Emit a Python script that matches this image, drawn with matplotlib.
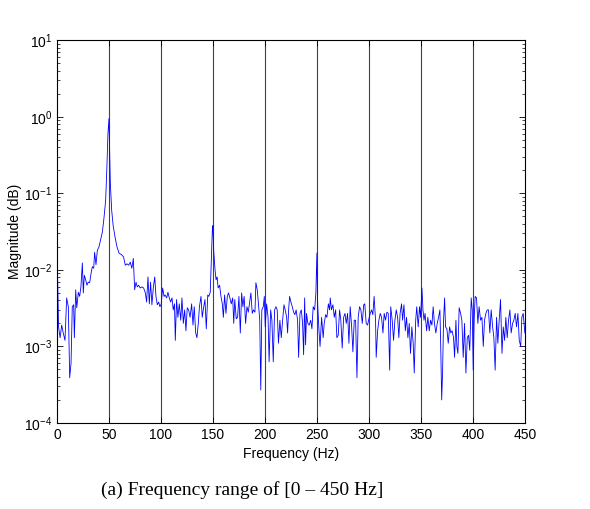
import matplotlib
matplotlib.use("Agg")
import matplotlib.pyplot as plt
from matplotlib.ticker import LogLocator, NullFormatter

plt.rcParams['font.family'] = ['Liberation Sans', 'DejaVu Sans']

# spectrum (frequency in Hz, magnitude)
freq_a = [0, 1.5, 3, 4.5, 6, 7.7, 9.3, 10.9, 12.2, 13.5, 14.7, 16, 16.7, 18, 19,
          20.5, 21.8, 23, 24.4, 25.3, 26.3, 27.6, 28.8, 30, 31.4, 32.7, 34, 35.3,
          36.2, 37.5, 38.8, 40.4, 42, 43.6, 45, 46.8, 48, 49, 50, 50.5, 51.3, 52.6,
          54, 55.8, 57.7, 59.6, 62]
mag_a = [0.022, 0.0018, 0.0013, 0.0019, 0.0015, 0.0012, 0.0043, 0.0033, 0.00039,
         0.0006, 0.0033, 0.0035, 0.0013, 0.0055, 0.0032, 0.0051, 0.0045, 0.0060,
         0.0123, 0.0050, 0.0085, 0.0074, 0.0063, 0.0069, 0.0068, 0.0089, 0.011,
         0.0105, 0.017, 0.0117, 0.018, 0.020, 0.025, 0.031, 0.045, 0.081, 0.22,
         0.60, 0.95, 0.45, 0.135, 0.060, 0.038, 0.027, 0.020, 0.0166, 0.0158]

freq_b = [64, 65.7, 67.3, 69, 70.5, 72, 73.4, 74.7, 76, 77.2, 78.5, 80, 81.7, 83.3,
          85, 86.2, 87.5, 88.8, 90, 91.3, 92.6, 94, 95.2, 96.5, 97.8, 99, 100.3,
          101.6, 103, 104, 105.5, 106.7, 108, 109.3, 110.6, 111.8, 113, 113.8, 115,
          116.3, 117.6, 119, 120.2, 121.5, 122.8, 124, 125.3, 126.6]
mag_b = [0.0148, 0.0115, 0.012, 0.0115, 0.0126, 0.0105, 0.0141, 0.0055, 0.0069,
         0.006, 0.0063, 0.0058, 0.006, 0.0058, 0.005, 0.0038, 0.0081, 0.0036,
         0.0069, 0.0035, 0.0058, 0.0081, 0.0045, 0.0035, 0.0038, 0.0033, 0.0036,
         0.0058, 0.0045, 0.0047, 0.0043, 0.0051, 0.0043, 0.0038, 0.0043, 0.003,
         0.0036, 0.0012, 0.0041, 0.0024, 0.0036, 0.0022, 0.0043, 0.002, 0.003,
         0.0016, 0.0032, 0.003]

freq_c = [128, 129.5, 130.8, 132, 133.4, 134.6, 135.9, 137, 138.5, 139.7, 141,
          142.3, 143.6, 145, 146, 147.4, 148.4, 149.4, 150, 150.7, 152, 153, 154,
          155, 156.4, 157.7, 159, 160, 161.2, 162.5, 163.8, 165, 166.3, 167.6, 169,
          170, 171, 172.4, 173.7, 175, 176.3, 177.6, 178.8, 180, 181.4, 182.7, 184,
          185.3, 186.5, 187.8, 189, 190.4]
mag_c = [0.0024, 0.0036, 0.0019, 0.0033, 0.0015, 0.0013, 0.002, 0.0033, 0.0045,
         0.0024, 0.0032, 0.0041, 0.0017, 0.0047, 0.0045, 0.0051, 0.0135, 0.033,
         0.038, 0.018, 0.010, 0.0074, 0.0081, 0.0058, 0.0063, 0.0045, 0.0036,
         0.0024, 0.0047, 0.0027, 0.0045, 0.005, 0.0043, 0.0036, 0.0043, 0.002,
         0.0041, 0.0023, 0.0024, 0.0045, 0.0015, 0.005, 0.0033, 0.0045, 0.002,
         0.0033, 0.0028, 0.0038, 0.005, 0.0027, 0.003, 0.0028]

freq_d = [191.3, 192.6, 194, 195, 196, 197, 198.4, 199.4, 200.3, 201.6, 203, 204,
          205.5, 206.7, 208, 209.3, 210.6, 211.8, 213, 214.4, 215.7, 217, 218.3,
          219.5, 220.9, 221.8, 222.8, 223.7, 225, 226.3, 227.6, 228.8, 230, 231.4,
          232.4, 233.7, 235, 236.2, 237.2, 238.2, 239.1, 240, 241.3, 242.6, 244,
          245.2, 246.4, 247.8, 249, 250, 250.7, 252, 253, 254.5, 256]
mag_d = [0.0068, 0.0055, 0.0033, 0.0022, 0.00027, 0.003, 0.0033, 0.0045, 0.0018,
         0.0036, 0.0024, 0.00063, 0.003, 0.0022, 0.00063, 0.003, 0.0033, 0.003,
         0.0011, 0.0022, 0.0013, 0.0022, 0.0035, 0.003, 0.0024, 0.0015, 0.003,
         0.0045, 0.0038, 0.0033, 0.0028, 0.0026, 0.003, 0.0022, 0.00072, 0.0027,
         0.003, 0.002, 0.00078, 0.0043, 0.00105, 0.0027, 0.002, 0.0019, 0.0022,
         0.0017, 0.0033, 0.003, 0.005, 0.0166, 0.0036, 0.0016, 0.001, 0.0024,
         0.0013]

freq_e = [257, 258.4, 259.6, 261, 262.2, 262.8, 264, 265.4, 266.7, 268, 269.2,
          270.5, 271.8, 273, 274.3, 275.7, 277, 278.2, 279.5, 280.8, 282, 283.4,
          284.6, 285.9, 287.2, 288.5, 289.7, 291, 292.3, 293.6, 295, 296, 297.4,
          298.7, 300, 301.3, 302.6, 303.8, 305, 306.4, 307, 308.4, 309.6, 310.9,
          312.2, 313.5, 314.7, 316, 317.3, 318.6, 320]
mag_e = [0.002, 0.0026, 0.0024, 0.0036, 0.003, 0.0043, 0.003, 0.0035, 0.0024,
         0.003, 0.0013, 0.0014, 0.003, 0.0022, 0.00095, 0.0024, 0.0027, 0.002,
         0.0027, 0.0011, 0.0033, 0.0018, 0.00085, 0.0022, 0.0022, 0.00039, 0.0024,
         0.0033, 0.003, 0.002, 0.0035, 0.0036, 0.002, 0.0019, 0.0023, 0.0027,
         0.003, 0.0026, 0.0045, 0.0022, 0.00072, 0.0016, 0.0022, 0.0027, 0.0024,
         0.0015, 0.0027, 0.0022, 0.0028, 0.0027, 0.00049]

freq_f = [321, 322.4, 323.7, 325, 326.3, 327.6, 328.8, 330, 331.4, 332.4, 333.7,
          335, 336.2, 337.5, 338.8, 340, 341.3, 342.6, 343.6, 345, 346, 347.4,
          348.7, 349.7, 351, 352, 353, 354, 355.5, 356.7, 358, 359.3, 360.6, 361.8,
          363, 364.4, 365.7, 367, 368.3, 369.2, 370, 370.9, 371.8, 372.8, 373.7,
          375, 376.3, 377.6, 378.8, 380, 381.4, 382.4, 383.7]
mag_f = [0.0033, 0.0022, 0.0012, 0.0022, 0.003, 0.0024, 0.0013, 0.0027, 0.0036,
         0.0022, 0.0035, 0.0016, 0.0024, 0.0013, 0.002, 0.00081, 0.0018, 0.0011,
         0.00045, 0.0022, 0.0033, 0.0018, 0.0033, 0.0024, 0.0058, 0.003, 0.0022,
         0.0027, 0.0016, 0.0024, 0.0016, 0.0022, 0.0019, 0.0033, 0.002, 0.0015,
         0.002, 0.0024, 0.003, 0.00081, 0.0002, 0.00049, 0.0022, 0.0043, 0.0018,
         0.0017, 0.0011, 0.0018, 0.0015, 0.0016, 0.0013, 0.00072, 0.0022]

freq_g = [384.6, 385.6, 386.8, 388.2, 389.4, 390.7, 392, 393.3, 394.6, 395.8, 397,
          398.4, 399.4, 400.3, 401.3, 402.2, 403.5, 404.8, 406, 407.4, 408.7, 410,
          411.2, 412.5, 413.8, 415, 416.3, 417.6, 419, 420.2, 421.4, 422.8, 424,
          425.3, 426.6, 428, 429.2, 430.5, 431.7, 433, 434.3, 435.6, 436.8, 438.2,
          439.4, 440.7, 442, 443.3, 444.6, 446, 447.1, 448.4, 450]
mag_g = [0.001, 0.00081, 0.0032, 0.0027, 0.0022, 0.00072, 0.002, 0.00045, 0.0013,
         0.0014, 0.00089, 0.0043, 0.003, 0.00049, 0.0024, 0.0045, 0.0043, 0.002,
         0.0033, 0.0022, 0.0024, 0.001, 0.0022, 0.0027, 0.003, 0.003, 0.0015,
         0.003, 0.0018, 0.0013, 0.00049, 0.0024, 0.0011, 0.0022, 0.0041, 0.00081,
         0.0018, 0.0012, 0.0024, 0.0013, 0.0022, 0.003, 0.0015, 0.002, 0.0022,
         0.0027, 0.0018, 0.0027, 0.0012, 0.001, 0.0024, 0.0027, 0.0015]

freq = freq_a + freq_b + freq_c + freq_d + freq_e + freq_f + freq_g
mag = mag_a + mag_b + mag_c + mag_d + mag_e + mag_f + mag_g

x_ticks = [0, 50, 100, 150, 200, 250, 300, 350, 400, 450]

fig = plt.figure(figsize=(5.9, 5.09), dpi=100)
ax = fig.add_axes([0.0966, 0.169, 0.793, 0.752])

# vertical marker lines at the harmonics
for xv in x_ticks[1:-1]:
    ax.axvline(xv, color='#444444', linewidth=0.8, zorder=1)

ax.plot(freq, mag, color='#0000ff', linewidth=0.6, zorder=2)

ax.set_yscale('log')
ax.set_xlim(0, 450)
ax.set_ylim(1e-4, 1e1)
ax.set_xticks(x_ticks)
ax.yaxis.set_minor_locator(LogLocator(base=10, subs=range(2, 10), numticks=20))
ax.yaxis.set_minor_formatter(NullFormatter())

ax.tick_params(which='both', direction='in', top=True, right=True,
               labelsize=10, colors='black')
ax.tick_params(which='major', length=4, width=0.6)
ax.tick_params(which='minor', length=2, width=0.5)
for sp in ax.spines.values():
    sp.set_linewidth(0.8)

ax.set_xlabel('Frequency (Hz)', fontsize=10, labelpad=4)
ax.set_ylabel('Magnitude (dB)', fontsize=10, labelpad=1)

fig.text(0.41, 0.037, '(a) Frequency range of [0 \u2013 450 Hz]',
         ha='center', va='center', fontsize=14,
         family=['Liberation Serif', 'DejaVu Serif'])

fig.savefig('out.png', dpi=100)
